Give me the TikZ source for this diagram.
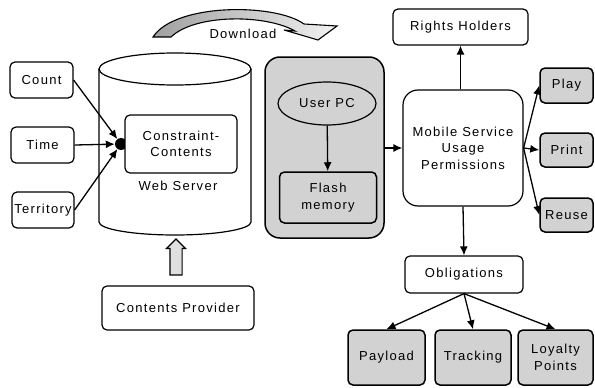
\documentclass[tikz,border=0pt]{standalone}
\usepackage{fontspec}
\setmainfont{Liberation Sans}[LetterSpace=10]
\usepackage{tikz}
\usetikzlibrary{shapes.arrows,shapes.geometric,arrows.meta}
\tikzstyle{mybox} = [draw=black, fill=white, line width=1.2pt,
    rectangle, rounded corners=5pt, align=center, inner sep=0pt]
\tikzstyle{graybox} = [mybox, fill=gray!35, line width=1.5pt]
\tikzstyle{myarrow} = [line width=1.3pt, -{Latex[length=9pt,width=8pt]}]

\begin{document}
\begin{tikzpicture}[x=1pt, y=1pt, font=\fontsize{13}{16.5}\selectfont]
                \useasboundingbox (0,0) rectangle (595,-388);
                % web server
                \draw[line width=1.2pt] (99,-69) -- (99,-222)
                    arc[start angle=180, end angle=360, x radius=76, y radius=13] -- (251,-69);
                \draw[line width=1.2pt, fill=white] (175,-69) ellipse[x radius=76, y radius=16];
                \node[circle, fill=black, minimum size=12pt, inner sep=0pt] (hub) at (121,-144) {};
                \node[mybox, minimum width=112pt, minimum height=58pt] (constraint) at (181,-144) {Constraint-\\Contents};
                \node (webserver) at (178,-186) {Web Server};
                \node[mybox, minimum width=63pt, minimum height=36pt] (count) at (41.5,-80) {Count};
                \node[mybox, minimum width=63pt, minimum height=36pt] (time) at (42.5,-145) {Time};
                \node[mybox, minimum width=62pt, minimum height=36pt] (territory) at (43,-210) {Territory};
                \draw[myarrow] (count.east) -- (hub);
                \draw[myarrow] (time.east) -- (hub);
                \draw[myarrow] (territory.east) -- (hub);
                \node[mybox, minimum width=152pt, minimum height=44pt] (provider) at (178,-308) {Contents Provider};
                \node[single arrow, draw, line width=1.1pt, fill=gray!25, shape border rotate=90,
                    minimum height=36pt, minimum width=18pt, inner sep=5.5pt,
                    single arrow head extend=3.5pt] (upload) at (176,-260) {};
                % download
                \draw[line width=1.1pt, left color=gray!75, right color=gray!10]
                    (153,-37) .. controls (175,-3) and (275,-3) .. (304,-24) -- (337,-26) -- (318,-40)
                    -- (284,-30) -- (295,-31) .. controls (265,-14) and (195,-14) .. (171,-37) -- cycle;
                \node (download) at (243,-34) {Download};
                % user side
                \node[graybox, rounded corners=15pt, minimum width=119pt, minimum height=181pt] (userside) at (324.5,-147.5) {};
                \node[draw, ellipse, fill=gray!35, line width=1.2pt, minimum width=98pt, minimum height=43pt, inner sep=0pt] (userpc) at (327,-103.5) {User PC};
                \node[graybox, minimum width=97pt, minimum height=51pt] (flash) at (328,-197.5) {Flash\\memory};
                \draw[myarrow] (userpc) -- (flash);
                \node[mybox, rounded corners=15pt, minimum width=120pt, minimum height=116pt] (mobile) at (463,-148) {Mobile Service\\Usage\\Permissions};
                \draw[myarrow] (userside.east |- mobile.west) -- (mobile.west);
                \node[mybox, minimum width=135pt, minimum height=36pt] (rights) at (460.5,-27) {Rights Holders};
                \draw[myarrow] (mobile.north -| rights.south) -- (rights.south);
                \node[graybox, minimum width=53pt, minimum height=35pt] (play) at (566.5,-85.5) {Play};
                \node[graybox, minimum width=53pt, minimum height=34pt] (print) at (566.5,-150) {Print};
                \node[graybox, minimum width=53pt, minimum height=34pt] (reuse) at (566.5,-215) {Reuse};
                \draw[myarrow] (mobile.east) -- (play.west);
                \draw[myarrow] (mobile.east) -- (print.west);
                \draw[myarrow] (mobile.east) -- (reuse.west);
                \node[mybox, minimum width=118pt, minimum height=37pt] (obligations) at (464,-274.5) {Obligations};
                \draw[myarrow] (mobile.south) -- (obligations.north);
                \node[graybox, minimum width=77pt, minimum height=55pt] (payload) at (386.5,-357.5) {Payload};
                \node[graybox, minimum width=76pt, minimum height=55pt] (tracking) at (473,-357.5) {Tracking};
                \node[graybox, minimum width=75pt, minimum height=55pt] (loyalty) at (555.5,-357.5) {Loyalty\\Points};
                \draw[myarrow] (obligations.south) -- (payload.north);
                \draw[myarrow] (obligations.south) -- (tracking.north);
                \draw[myarrow] (obligations.south) -- (loyalty.north);
            \end{tikzpicture}
\end{document}
